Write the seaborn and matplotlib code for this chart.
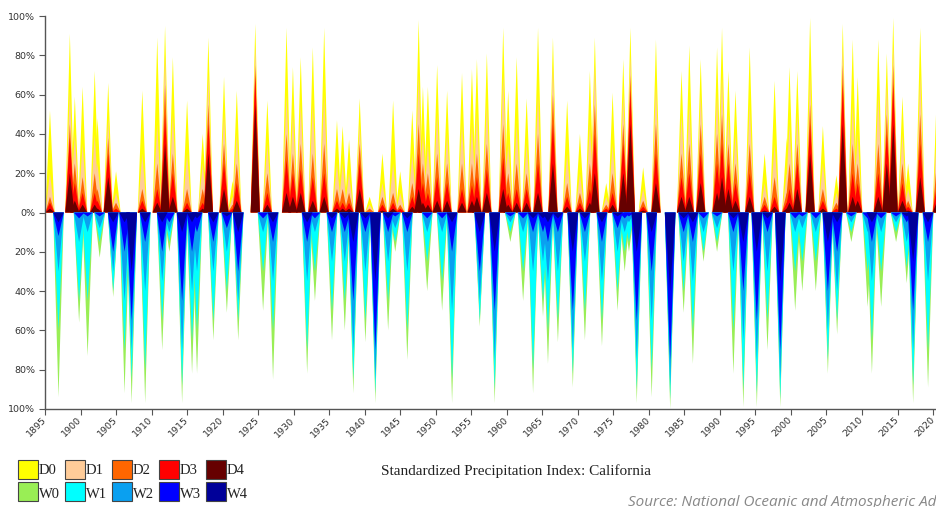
import numpy as np
import pandas as pd
import seaborn as sns
import matplotlib.pyplot as plt
from matplotlib.patches import Rectangle

# drought spikes: year of peak and cumulative % area (D0 = total, D4 = innermost)
dry_year = [1895.7, 1898.5, 1899.2, 1900.3, 1902.0, 1902.4, 1903.9, 1905.0, 1908.7, 1910.8,
            1911.9, 1913.0, 1915.0, 1917.2, 1918.0, 1920.2, 1921.4, 1922.0, 1924.6, 1926.3,
            1929.0, 1929.9, 1931.0, 1932.7, 1934.3, 1936.1, 1936.9, 1937.8, 1939.3, 1940.7,
            1942.5, 1944.0, 1945.0, 1946.7, 1947.6, 1948.2, 1948.9, 1950.2, 1951.6, 1953.7,
            1955.1, 1955.8, 1957.2, 1959.5, 1960.2, 1961.4, 1962.8, 1964.4, 1966.5, 1968.5,
            1970.3, 1971.7, 1972.4, 1974.0, 1974.9, 1976.4, 1977.4, 1979.2, 1981.0, 1984.6,
            1985.7, 1987.3, 1989.6, 1990.3, 1991.2, 1992.2, 1994.2, 1996.3, 1997.7, 1999.4,
            1999.8, 2000.9, 2002.7, 2004.5, 2006.4, 2007.3, 2008.7, 2009.4, 2012.3, 2013.5,
            2014.4, 2015.7, 2016.5, 2018.2, 2020.6]
d0 = [52, 91, 59, 64, 72, 48, 66, 21, 62, 89, 95, 79, 57, 40, 89, 69, 16, 62, 96, 57,
      94, 74, 79, 84, 94, 47, 44, 37, 58, 8, 30, 57, 21, 52, 98, 64, 64, 75, 62, 71,
      73, 78, 81, 94, 62, 79, 58, 94, 89, 57, 40, 72, 89, 15, 61, 78, 94, 23, 88, 72,
      85, 78, 84, 94, 72, 62, 84, 30, 67, 38, 74, 72, 99, 44, 19, 96, 88, 69, 88, 81,
      99, 59, 25, 94, 69]
d1 = [20, 62, 40, 35, 40, 25, 48, 10, 30, 45, 80, 50, 30, 25, 70, 50, 8, 40, 85, 35,
      60, 50, 55, 55, 60, 25, 25, 20, 45, 4, 15, 25, 10, 30, 70, 40, 35, 50, 40, 45,
      45, 50, 55, 70, 35, 45, 35, 60, 75, 30, 20, 45, 75, 8, 35, 60, 80, 12, 65, 50,
      55, 60, 60, 70, 50, 40, 55, 15, 35, 20, 45, 50, 70, 25, 10, 85, 55, 40, 60, 65,
      85, 40, 12, 70, 45]
d2 = [8, 45, 25, 18, 20, 12, 38, 5, 12, 25, 65, 30, 12, 12, 55, 35, 4, 25, 75, 20,
      40, 30, 35, 30, 35, 12, 12, 10, 35, 2, 8, 10, 4, 15, 45, 25, 20, 30, 25, 25,
      25, 30, 35, 45, 20, 25, 20, 40, 60, 15, 10, 25, 55, 4, 20, 45, 70, 6, 45, 30,
      35, 45, 40, 50, 35, 25, 35, 8, 18, 10, 25, 35, 55, 12, 5, 75, 35, 25, 35, 50,
      75, 25, 6, 50, 28]
d3 = [5, 38, 15, 10, 10, 6, 30, 2, 6, 12, 50, 20, 5, 5, 45, 25, 2, 15, 70, 10,
      27, 20, 22, 18, 20, 6, 5, 5, 25, 0, 4, 5, 2, 8, 30, 15, 10, 18, 15, 12,
      14, 18, 22, 28, 10, 12, 12, 25, 45, 8, 5, 12, 40, 2, 10, 35, 62, 3, 30, 18,
      20, 30, 25, 35, 25, 15, 20, 4, 8, 5, 12, 25, 45, 6, 2, 65, 20, 15, 20, 40,
      65, 15, 3, 35, 15]
d4 = [2, 20, 6, 4, 4, 2, 18, 0, 2, 5, 35, 8, 2, 2, 30, 12, 0, 6, 55, 4,
      10, 8, 10, 6, 8, 2, 2, 2, 12, 0, 1, 2, 0, 3, 12, 5, 4, 6, 6, 5,
      6, 8, 10, 12, 4, 5, 5, 10, 25, 3, 2, 5, 20, 0, 4, 20, 45, 1, 15, 8,
      8, 15, 10, 18, 12, 6, 8, 1, 3, 2, 5, 12, 30, 2, 0, 45, 8, 6, 8, 25,
      45, 6, 1, 18, 6]

# wet spikes: year of peak and cumulative % area (W0 = total, W4 = innermost)
wet_year = [1896.9, 1899.8, 1901.0, 1902.7, 1904.6, 1906.2, 1907.2, 1909.1, 1911.5, 1912.5,
            1914.3, 1915.7, 1916.4, 1918.7, 1920.6, 1922.2, 1925.7, 1927.1, 1931.9, 1933.0,
            1935.4, 1937.2, 1938.4, 1940.1, 1941.5, 1943.3, 1944.3, 1946.0, 1948.8, 1950.9,
            1952.3, 1956.2, 1958.3, 1960.5, 1962.3, 1963.7, 1965.1, 1965.8, 1967.2, 1969.3,
            1971.0, 1973.4, 1975.6, 1976.6, 1977.2, 1978.3, 1980.4, 1983.0, 1984.9, 1986.2,
            1987.7, 1989.6, 1991.9, 1993.3, 1995.2, 1996.7, 1998.5, 2000.6, 2001.6, 2003.5,
            2005.2, 2006.5, 2008.5, 2010.8, 2011.4, 2012.7, 2014.8, 2016.3, 2017.2, 2019.3]
w0 = [94, 56, 73, 23, 43, 92, 97, 97, 70, 20, 97, 82, 82, 65, 51, 65, 50, 85, 82, 45,
      65, 60, 92, 66, 97, 60, 20, 75, 40, 50, 97, 58, 97, 15, 45, 92, 53, 77, 66, 89,
      65, 68, 50, 30, 20, 97, 94, 100, 51, 77, 25, 20, 82, 99, 99, 70, 99, 50, 40, 40,
      82, 62, 15, 48, 82, 48, 15, 36, 97, 89]
w1 = [60, 45, 45, 15, 40, 70, 85, 80, 55, 15, 88, 65, 60, 55, 40, 55, 30, 60, 70, 30,
      50, 45, 85, 55, 92, 45, 15, 60, 25, 35, 85, 55, 90, 10, 30, 80, 45, 60, 55, 82,
      50, 55, 40, 20, 15, 90, 80, 95, 40, 60, 20, 15, 60, 90, 92, 55, 95, 30, 25, 25,
      75, 55, 10, 30, 65, 30, 10, 28, 88, 70]
w2 = [30, 15, 10, 8, 30, 45, 70, 40, 35, 10, 70, 40, 30, 30, 20, 45, 10, 35, 35, 10,
      25, 25, 70, 30, 85, 25, 8, 30, 10, 10, 50, 45, 75, 5, 10, 30, 25, 35, 30, 70,
      25, 35, 20, 10, 5, 75, 55, 88, 25, 35, 10, 8, 30, 65, 75, 30, 85, 10, 8, 10,
      60, 40, 5, 10, 35, 10, 5, 15, 70, 35]
w3 = [12, 3, 2, 2, 20, 20, 55, 15, 20, 5, 45, 20, 10, 15, 8, 30, 3, 15, 15, 3,
      10, 10, 45, 10, 70, 10, 2, 10, 3, 3, 20, 30, 50, 2, 3, 10, 10, 15, 10, 50,
      10, 15, 8, 3, 2, 55, 30, 75, 10, 15, 3, 2, 10, 40, 55, 10, 70, 3, 2, 3,
      40, 20, 2, 3, 15, 3, 2, 5, 50, 15]
w4 = [5, 0, 0, 0, 5, 5, 30, 5, 5, 0, 10, 5, 3, 5, 2, 10, 0, 5, 5, 0,
      3, 3, 15, 3, 35, 3, 0, 3, 0, 0, 5, 10, 20, 0, 0, 3, 3, 5, 3, 20,
      3, 5, 2, 0, 0, 20, 10, 40, 3, 5, 0, 0, 3, 15, 20, 3, 35, 0, 0, 0,
      15, 5, 0, 0, 5, 0, 0, 2, 25, 5]

dry_labels = ["D0", "D1", "D2", "D3", "D4"]
wet_labels = ["W0", "W1", "W2", "W3", "W4"]
dry_colors = ["#ffff00", "#ffcc99", "#ff6600", "#ff0000", "#660000"]
wet_colors = ["#99ee55", "#00ffff", "#0aa0f0", "#0000ff", "#000099"]

dry = pd.DataFrame({"year": dry_year, "D0": d0, "D1": d1, "D2": d2, "D3": d3, "D4": d4})
wet = pd.DataFrame({"year": wet_year, "W0": w0, "W1": w1, "W2": w2, "W3": w3, "W4": w4})

sns.set_theme(style="white")
plt.rcParams["font.family"] = ["DejaVu Sans"]

fig = plt.figure(figsize=(9.37, 5.07), dpi=100)
ax = fig.add_axes([45 / 937, 98 / 507, 892 / 937, 393 / 507])

dry_half = 0.65  # half base width of a spike, in years
wet_half = 0.75
for col, c in zip(dry_labels, dry_colors):
    for _, r in dry.iterrows():
        if r[col] > 0:
            ax.fill([r.year - dry_half, r.year, r.year + dry_half], [0, r[col], 0],
                    color=c, lw=0)
for col, c in zip(wet_labels, wet_colors):
    for _, r in wet.iterrows():
        if r[col] > 0:
            ax.fill([r.year - wet_half, r.year, r.year + wet_half], [0, -r[col], 0],
                    color=c, lw=0)

ax.set_xlim(1895, 2020.56)
ax.set_ylim(-100, 100)
yt = np.arange(-100, 101, 20)
ax.set_yticks(yt)
ax.set_yticklabels([f"{abs(v)}%" for v in yt], fontsize=6.8, color="#333333")
xt = np.arange(1895, 2021, 5)
ax.set_xticks(xt)
ax.set_xticklabels([str(v) for v in xt], rotation=45, fontsize=6.8, color="#333333",
                   ha="right", va="center", rotation_mode="anchor")
ax.tick_params(axis="both", length=4, width=0.8, color="#555555", pad=3, direction="out")
ax.tick_params(axis="x", bottom=True)
ax.tick_params(axis="y", left=True)
for side in ["top", "right"]:
    ax.spines[side].set_visible(False)
for side in ["left", "bottom"]:
    ax.spines[side].set_color("#555555")
    ax.spines[side].set_linewidth(1.0)
ax.set_facecolor("white")

# legend boxes drawn in figure pixels
W, H = 937, 507
for i, (lab, c) in enumerate(zip(dry_labels, dry_colors)):
    x0 = 18 + i * 47
    fig.patches.append(Rectangle((x0 / W, 1 - 479 / H), 20 / W, 19 / H, transform=fig.transFigure,
                                 facecolor=c, edgecolor="#444444", lw=0.8))
    fig.text((x0 + 21) / W, 1 - 470 / H, lab, family="Liberation Serif", fontsize=10.5,
             va="center", ha="left", color="#222222")
for i, (lab, c) in enumerate(zip(wet_labels, wet_colors)):
    x0 = 18 + i * 47
    fig.patches.append(Rectangle((x0 / W, 1 - 501 / H), 20 / W, 19 / H, transform=fig.transFigure,
                                 facecolor=c, edgecolor="#444444", lw=0.8))
    fig.text((x0 + 21) / W, 1 - 494 / H, lab, family="Liberation Serif", fontsize=10.5,
             va="center", ha="left", color="#222222")

fig.text(381 / W, 1 - 471 / H, "Standardized Precipitation Index: California",
         family="Liberation Serif", fontsize=11, va="center", ha="left", color="#222222")
fig.text(628 / W, 1 - 503 / H, "Source: National Oceanic and Atmospheric Administration",
         family="Open Sans", fontsize=11, style="italic", va="center", ha="left",
         color="#888888")

fig.savefig("out.png", dpi=100)
